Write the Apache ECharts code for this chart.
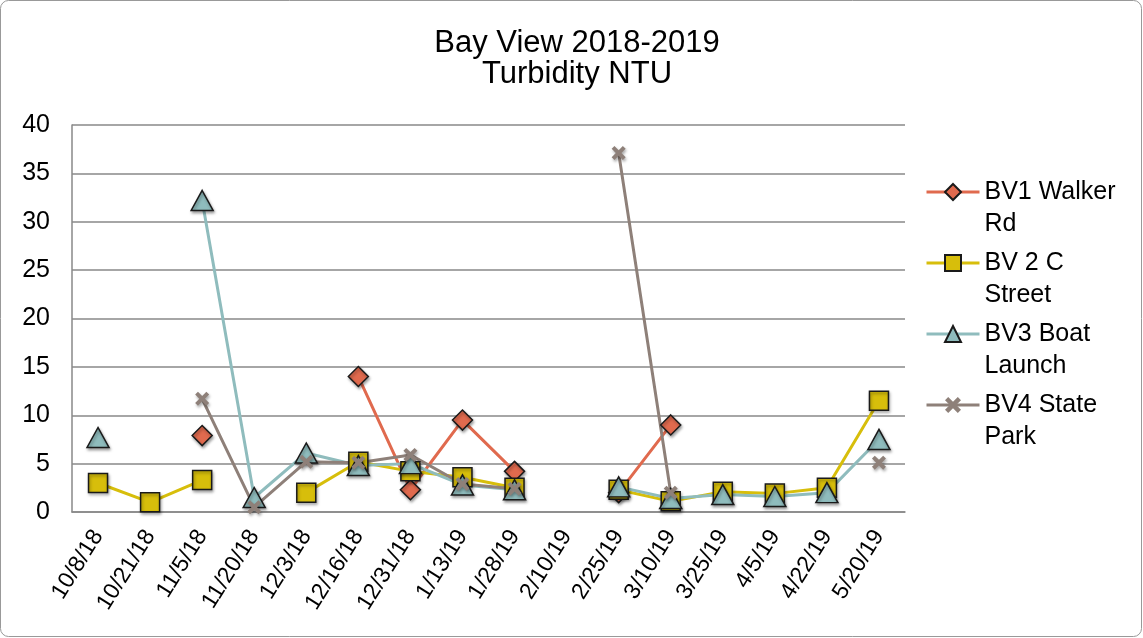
<!DOCTYPE html>
<html><head><meta charset="utf-8">
<script src="https://cdn.jsdelivr.net/npm/echarts@6/dist/echarts.min.js"></script>
<style>html,body{margin:0;padding:0;background:#fff}#c{width:1143px;height:638px}</style>
</head><body><div id="c"></div>
<script>
const categories = ['10/8/18','10/21/18','11/5/18','11/20/18','12/3/18','12/16/18','12/31/18','1/13/19','1/28/19','2/10/19','2/25/19','3/10/19','3/25/19','4/5/19','4/22/19','5/20/19'];
const bv1 = [null,null,7.9,null,null,14.0,2.3,9.5,4.2,null,2.0,9.0,null,null,null,null];
const bv2 = [3.0,1.0,3.3,null,2.0,5.2,4.2,3.6,2.5,null,2.3,1.1,2.1,1.9,2.5,11.5];
const bv3 = [7.7,null,32.2,1.5,6.1,4.8,5.0,2.8,2.3,null,2.6,1.4,1.8,1.6,2.0,7.5];
const bv4 = [null,null,11.7,0.5,5.2,5.1,5.9,2.9,2.4,null,37.1,2.0,null,null,null,5.1];
const seriesNames = ['BV1 Walker Rd','BV 2 C Street','BV3 Boat Launch','BV4 State Park'];
const legendLabels = {'BV1 Walker Rd':'BV1 Walker\nRd','BV 2 C Street':'BV 2 C\nStreet','BV3 Boat Launch':'BV3 Boat\nLaunch','BV4 State Park':'BV4 State\nPark'};
const yTicks = {min:0,max:40,interval:5};

const FONT = '"Liberation Sans", Arial, sans-serif';
const xPath = 'path://M2,0 L5,3 L8,0 L10,2 L7,5 L10,8 L8,10 L5,7 L2,10 L0,8 L3,5 L0,2 Z';
const shadow = {shadowColor:'rgba(0,0,0,0.35)',shadowBlur:3,shadowOffsetX:1,shadowOffsetY:2};
function mk(name,data,color,symbol,size,border){
  return {name:name,type:'line',data:data,connectNulls:false,symbol:symbol,symbolSize:size,
    showAllSymbol:true,
    lineStyle:{color:color,width:3},
    itemStyle:Object.assign({color:color,borderColor:border?'#1a1a1a':color,borderWidth:border?1.5:0},shadow),
    emphasis:{disabled:true}};
}
const chart = echarts.init(document.getElementById('c'),null,{renderer:'canvas'});
chart.setOption({
  animation:false,
  backgroundColor:'#fff',
  textStyle:{fontFamily:FONT},
  title:{text:'Bay View 2018-2019\nTurbidity NTU',left:577,textAlign:'center',top:28,padding:0,
    textStyle:{fontFamily:FONT,fontSize:31,fontWeight:'normal',color:'#000',lineHeight:31}},
  grid:{left:72,right:238,top:125,bottom:126,containLabel:false},
  legend:{orient:'vertical',left:925,top:144,padding:0,itemGap:-25,itemWidth:53,itemHeight:20,
    formatter:function(n){return '\n'+legendLabels[n];},
    lineStyle:{width:3},
    textStyle:{fontFamily:FONT,fontSize:25,color:'#000',lineHeight:32},
    data:seriesNames},
  xAxis:{type:'category',data:categories,boundaryGap:true,
    axisLine:{lineStyle:{color:'#888',width:1.5}},axisTick:{show:false},
    axisLabel:{rotate:58,fontFamily:FONT,fontSize:23,color:'#000',margin:20,interval:0}},
  yAxis:{type:'value',min:yTicks.min,max:yTicks.max,interval:yTicks.interval,
    axisLine:{show:true,lineStyle:{color:'#888',width:1.5}},axisTick:{show:false},
    splitLine:{lineStyle:{color:'#888',width:1.5}},
    axisLabel:{fontFamily:FONT,fontSize:25,color:'#000',margin:22}},
  graphic:[{type:'rect',shape:{x:0.5,y:0.5,width:1141,height:636,r:8},style:{fill:null,stroke:'#999',lineWidth:1},silent:true}],
  series:[
    mk(seriesNames[0],bv1,'#E06A4E','diamond',20,true),
    mk(seriesNames[1],bv2,'#D7BE0B','rect',19,true),
    mk(seriesNames[2],bv3,'#8FBCBD','triangle',[22,20],true),
    mk(seriesNames[3],bv4,'#8E8079',xPath,14,false)
  ]
});
</script></body></html>
